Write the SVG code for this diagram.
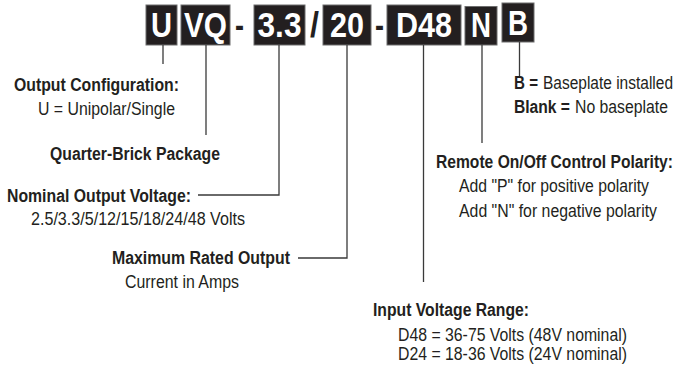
<svg xmlns="http://www.w3.org/2000/svg" width="679" height="370" viewBox="0 0 679 370">
<style>
.box{fill:#231f20;stroke:#6d6d6d;stroke-width:1}
.code{font-family:"Liberation Sans",Arial,sans-serif;font-weight:bold;font-size:35px;fill:#ffffff;text-anchor:middle}
.sep{font-family:"Liberation Sans",Arial,sans-serif;font-weight:bold;font-size:35px;fill:#231f20;text-anchor:middle}
.t{font-family:"Liberation Sans",Arial,sans-serif;font-size:17.5px;fill:#231f20}
.b{font-weight:bold}
.conn{fill:none;stroke:#3a3a3a;stroke-width:1.3}
</style>
<rect width="679" height="370" fill="#ffffff"/>
<g id="code">
  <g id="box-U"><rect class="box" x="146" y="5" width="31" height="40"/><text class="code" x="161.5" y="37" textLength="21" lengthAdjust="spacingAndGlyphs">U</text></g>
  <g id="box-VQ"><rect class="box" x="181" y="5" width="49" height="40"/><text class="code" x="205.5" y="37" textLength="43" lengthAdjust="spacingAndGlyphs">VQ</text></g>
  <text class="sep" x="239.5" y="37" textLength="9" lengthAdjust="spacingAndGlyphs">-</text>
  <g id="box-33"><rect class="box" x="254" y="5" width="51" height="40"/><text class="code" x="279.5" y="37" textLength="44" lengthAdjust="spacingAndGlyphs">3.3</text></g>
  <text class="sep" x="314.5" y="37" textLength="9" lengthAdjust="spacingAndGlyphs">/</text>
  <g id="box-20"><rect class="box" x="323" y="5" width="48" height="40"/><text class="code" x="347" y="37" textLength="34" lengthAdjust="spacingAndGlyphs">20</text></g>
  <text class="sep" x="379.5" y="37" textLength="9" lengthAdjust="spacingAndGlyphs">-</text>
  <g id="box-D48"><rect class="box" x="387" y="5" width="74" height="40"/><text class="code" x="424" y="37" textLength="56" lengthAdjust="spacingAndGlyphs">D48</text></g>
  <g id="box-N"><rect class="box" x="465" y="6.5" width="32" height="38.5"/><text class="code" x="481" y="37" textLength="20" lengthAdjust="spacingAndGlyphs">N</text></g>
  <g id="box-B"><rect class="box" x="502" y="3" width="32" height="39"/><text class="code" x="518" y="35" textLength="20" lengthAdjust="spacingAndGlyphs">B</text></g>
</g>
<g id="connectors">
  <path class="conn" d="M163,45 V64"/>
  <path class="conn" d="M206,45 V135"/>
  <path class="conn" d="M279,45 V195 H198"/>
  <path class="conn" d="M347,45 V258 H298"/>
  <path class="conn" d="M423.5,45 V282"/>
  <path class="conn" d="M482,44.5 V143"/>
  <path class="conn" d="M519.5,42 V78"/>
</g>
<g id="output-configuration">
  <text class="t b" x="14" y="91" textLength="165" lengthAdjust="spacingAndGlyphs">Output Configuration:</text>
  <text class="t" x="38" y="115" textLength="137" lengthAdjust="spacingAndGlyphs">U = Unipolar/Single</text>
</g>
<g id="package">
  <text class="t b" x="50" y="159.5" textLength="170" lengthAdjust="spacingAndGlyphs">Quarter-Brick Package</text>
</g>
<g id="nominal-output-voltage">
  <text class="t b" x="7" y="202" textLength="184" lengthAdjust="spacingAndGlyphs">Nominal Output Voltage:</text>
  <text class="t" x="31" y="225" textLength="214" lengthAdjust="spacingAndGlyphs">2.5/3.3/5/12/15/18/24/48 Volts</text>
</g>
<g id="maximum-rated-output">
  <text class="t b" x="112" y="264" textLength="178" lengthAdjust="spacingAndGlyphs">Maximum Rated Output</text>
  <text class="t" x="125" y="288" textLength="114" lengthAdjust="spacingAndGlyphs">Current in Amps</text>
</g>
<g id="input-voltage-range">
  <text class="t b" x="373" y="315.5" textLength="156" lengthAdjust="spacingAndGlyphs">Input Voltage Range:</text>
  <text class="t" x="398" y="340.5" textLength="229" lengthAdjust="spacingAndGlyphs">D48 = 36-75 Volts (48V nominal)</text>
  <text class="t" x="398" y="359.5" textLength="229" lengthAdjust="spacingAndGlyphs">D24 = 18-36 Volts (24V nominal)</text>
</g>
<g id="remote-polarity">
  <text class="t b" x="436" y="168" textLength="237" lengthAdjust="spacingAndGlyphs">Remote On/Off Control Polarity:</text>
  <text class="t" x="459" y="192" textLength="190" lengthAdjust="spacingAndGlyphs">Add "P" for positive polarity</text>
  <text class="t" x="459" y="217" textLength="198" lengthAdjust="spacingAndGlyphs">Add "N" for negative polarity</text>
</g>
<g id="baseplate">
  <text class="t b" x="514" y="89" textLength="24" lengthAdjust="spacingAndGlyphs">B =</text>
  <text class="t" x="543" y="89" textLength="130" lengthAdjust="spacingAndGlyphs">Baseplate installed</text>
  <text class="t b" x="514" y="113" textLength="56" lengthAdjust="spacingAndGlyphs">Blank =</text>
  <text class="t" x="575" y="113" textLength="93" lengthAdjust="spacingAndGlyphs">No baseplate</text>
</g>
</svg>
